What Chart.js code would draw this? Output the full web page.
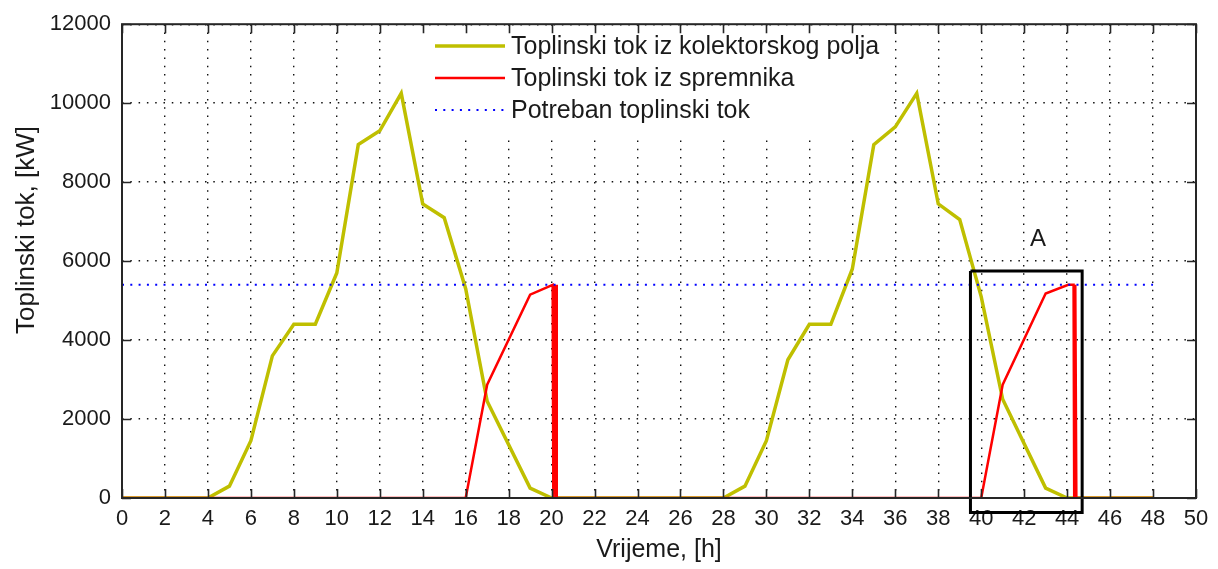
<!DOCTYPE html>
<html>
<head>
<meta charset="utf-8">
<script src="https://cdn.jsdelivr.net/npm/chart.js@4.4.1/dist/chart.umd.min.js"></script>
<style>
  html, body { margin: 0; padding: 0; background: #fff; }
  canvas { display: block; }
</style>
</head>
<body>
<canvas id="chart" width="1218" height="569"></canvas>
<script>
// toplinski tok iz kolektorskog polja, dva dana
const collectorHours = [0, 4, 5, 6, 7, 8, 9, 10, 11, 12, 13, 14, 15, 16, 17, 19, 20,
                        28, 29, 30, 31, 32, 33, 34, 35, 36, 37, 38, 39, 40, 41, 43, 44, 48];
const collectorFlow = [0, 0, 300, 1450, 3600, 4400, 4400, 5700, 8950, 9300, 10250, 7450, 7100, 5300, 2450, 250, 0,
                       0, 300, 1450, 3500, 4400, 4400, 5800, 8950, 9400, 10250, 7450, 7050, 5100, 2500, 250, 0, 0];

// toplinski tok iz spremnika (pražnjenje na kraju dana)
const storageHours = [0, 16, 17, 19, 20.05, 20.08, 20.14, 20.2, 20.24, 20.24,
                      40, 41, 43, 44.05, 44.3, 44.33, 44.38, 44.43, 48];
const storageFlow = [0, 0, 2870, 5150, 5400, 0, 5400, 0, 5400, 0,
                     0, 2870, 5180, 5400, 5400, 0, 5400, 0, 0];

// potreban toplinski tok
const demandHours = [0, 48];
const demandFlow = [5400, 5400];

// okvir A oko drugog pražnjenja
const boxHours = [39.5, 44.7, 44.7, 39.5, 39.5];
const boxFlow = [5750, 5750, -370, -370, 5750];
const boxLabel = 'A';
const boxLabelAt = [42.65, 6550];

const seriesLabels = ['Toplinski tok iz kolektorskog polja', 'Toplinski tok iz spremnika', 'Potreban toplinski tok'];
const xTitle = 'Vrijeme, [h]';
const yTitle = 'Toplinski tok, [kW]';

const xTickValues = [0, 2, 4, 6, 8, 10, 12, 14, 16, 18, 20, 22, 24, 26, 28, 30, 32, 34, 36, 38, 40, 42, 44, 46, 48, 50];
const yTickValues = [0, 2000, 4000, 6000, 8000, 10000, 12000];

const textColor = '#1a1a1a';
const fontFamily = '"Liberation Sans", Arial, sans-serif';

const toPoints = (xs, ys) => xs.map((x, i) => ({ x: x, y: ys[i] }));

// okvir osi s unutarnjim crticama, legenda, naslov osi y i oznaka A
const axesBox = {
  id: 'axesBox',
  beforeDatasetsDraw(chart) {
    const ctx = chart.ctx;
    // bijela podloga legende preko mreže
    ctx.save();
    ctx.fillStyle = '#fff';
    ctx.fillRect(420, 29, 468, 105);
    ctx.restore();
  },
  afterDatasetsDraw(chart) {
    const { ctx, chartArea: a, scales } = chart;
    ctx.save();
    ctx.strokeStyle = '#262626';
    ctx.lineWidth = 1.6;
    const tl = 9;
    ctx.beginPath();
    xTickValues.forEach(v => {
      const px = Math.round(scales.x.getPixelForValue(v)) + 0.5;
      ctx.moveTo(px, a.bottom); ctx.lineTo(px, a.bottom - tl);
      ctx.moveTo(px, a.top); ctx.lineTo(px, a.top + tl);
    });
    yTickValues.forEach(v => {
      const py = Math.round(scales.y.getPixelForValue(v)) + 0.5;
      ctx.moveTo(a.left, py); ctx.lineTo(a.left + tl, py);
      ctx.moveTo(a.right, py); ctx.lineTo(a.right - tl, py);
    });
    ctx.stroke();
    ctx.lineWidth = 2;
    ctx.strokeRect(a.left, a.top, a.right - a.left, a.bottom - a.top);

    // legenda
    ctx.font = '25px ' + fontFamily;
    ctx.textBaseline = 'middle';
    ctx.textAlign = 'left';
    const rows = [46, 78, 110];
    chart.data.datasets.filter(d => d.inLegend).forEach((d, i) => {
      const y = rows[i];
      ctx.strokeStyle = d.borderColor;
      ctx.lineWidth = d.borderWidth;
      ctx.setLineDash(d.borderDash || []);
      ctx.beginPath();
      ctx.moveTo(435, y); ctx.lineTo(505, y);
      ctx.stroke();
      ctx.setLineDash([]);
      ctx.fillStyle = textColor;
      ctx.fillText(d.label, 511, y + 1);
    });

    // naslov osi y
    ctx.save();
    ctx.translate(27, 230);
    ctx.rotate(-Math.PI / 2);
    ctx.font = '26px ' + fontFamily;
    ctx.textAlign = 'center';
    ctx.fillStyle = textColor;
    ctx.fillText(yTitle, 0, 0);
    ctx.restore();

    // oznaka A
    ctx.font = '24px ' + fontFamily;
    ctx.textAlign = 'center';
    ctx.fillStyle = textColor;
    ctx.fillText(boxLabel, scales.x.getPixelForValue(boxLabelAt[0]), scales.y.getPixelForValue(boxLabelAt[1]));
    ctx.restore();
  }
};

new Chart(document.getElementById('chart'), {
  type: 'line',
  data: {
    datasets: [
      {
        label: seriesLabels[0],
        inLegend: true,
        data: toPoints(collectorHours, collectorFlow),
        borderColor: '#bfbf00',
        borderWidth: 3.5,
        order: 3
      },
      {
        label: seriesLabels[1],
        inLegend: true,
        data: toPoints(storageHours, storageFlow),
        borderColor: '#ff0000',
        borderWidth: 2.5,
        order: 2
      },
      {
        label: seriesLabels[2],
        inLegend: true,
        data: toPoints(demandHours, demandFlow),
        borderColor: '#0000ff',
        borderWidth: 2,
        borderDash: [2, 6.3],
        order: 1
      },
      {
        label: boxLabel,
        inLegend: false,
        data: toPoints(boxHours, boxFlow),
        borderColor: '#000',
        borderWidth: 3,
        clip: false,
        order: 0
      }
    ]
  },
  options: {
    responsive: false,
    devicePixelRatio: 1,
    animation: false,
    layout: { padding: { left: 0, right: 22, top: 18, bottom: 0 } },
    elements: {
      point: { radius: 0 },
      line: { tension: 0, borderJoinStyle: 'miter', borderCapStyle: 'butt' }
    },
    plugins: {
      legend: { display: false },
      tooltip: { enabled: false }
    },
    scales: {
      x: {
        type: 'linear',
        min: 0,
        max: 50,
        afterBuildTicks: s => { s.ticks = xTickValues.map(v => ({ value: v })); },
        afterFit: s => { s.height = 71; },
        grid: { color: '#111', lineWidth: 1.4, drawTicks: false },
        border: { display: false, dash: [1.5, 6.8] },
        ticks: { padding: 8, maxRotation: 0, autoSkip: false, color: textColor, font: { family: fontFamily, size: 22 }, callback: v => String(v) },
        title: { display: true, text: xTitle, color: textColor, font: { family: fontFamily, size: 25 }, padding: { top: 0, bottom: 4 } }
      },
      y: {
        type: 'linear',
        min: 0,
        max: 12000,
        afterBuildTicks: s => { s.ticks = yTickValues.map(v => ({ value: v })); },
        afterFit: s => { s.width = 122; },
        grid: { color: '#111', lineWidth: 1.4, drawTicks: false },
        border: { display: false, dash: [1.5, 6.8] },
        ticks: { padding: 11, color: textColor, font: { family: fontFamily, size: 22 }, callback: v => String(v) },
        title: { display: false }
      }
    }
  },
  plugins: [axesBox]
});
</script>
</body>
</html>
